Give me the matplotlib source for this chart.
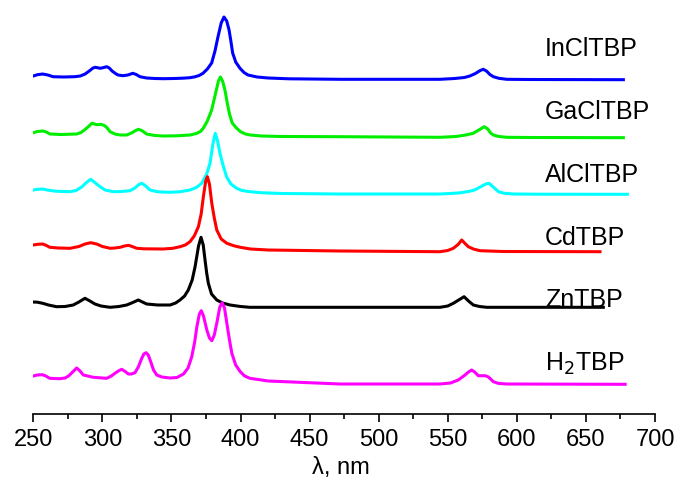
import matplotlib
matplotlib.use('Agg')
import matplotlib.pyplot as plt
from matplotlib.ticker import MultipleLocator

plt.rcParams['font.family'] = ['Liberation Sans', 'DejaVu Sans']

# Spectra (wavelength, nm / stacked absorbance, a.u.)
incl_x = [250, 253, 256.8, 260.5, 264.3, 272, 280, 284, 287.5, 290.5, 293, 294.7, 296.5, 298.3,
          300.5, 303.1, 305, 307, 309.5, 311.3, 314.9, 318.5, 322, 324.5, 327.2, 332, 338,
          343.9, 352, 358, 363.4, 367, 370, 372.8, 376, 379.1, 381.5, 383.7, 386, 388, 390,
          391.7, 393, 394.3, 396.5, 399.6, 402.5, 405.4, 412, 420, 435, 472, 544.4, 555, 562,
          566, 570, 573.5, 575.7, 578, 580.5, 583, 587, 592.7, 610, 677.1]
incl_y = [3.38, 3.393, 3.40, 3.39, 3.373, 3.37, 3.373, 3.38, 3.40, 3.43, 3.458, 3.467, 3.463, 3.457,
          3.463, 3.473, 3.46, 3.43, 3.405, 3.39, 3.383, 3.39, 3.407, 3.395, 3.373, 3.36, 3.355,
          3.353, 3.355, 3.358, 3.363, 3.372, 3.385, 3.407, 3.45, 3.51, 3.63, 3.773, 3.91, 3.97, 3.93,
          3.84, 3.73, 3.61, 3.52, 3.457, 3.415, 3.39, 3.37, 3.36, 3.352, 3.347, 3.347, 3.355, 3.365,
          3.38, 3.405, 3.435, 3.447, 3.43, 3.395, 3.373, 3.357, 3.347, 3.345, 3.343]

gacl_x = [250, 253, 256.8, 259.5, 262, 270, 281.4, 284.5, 287, 290, 292.4, 294.3, 296, 298.8,
          301.5, 303.5, 305.6, 309, 313, 317.6, 321, 323.5, 326, 328.5, 332, 338, 344, 354,
          363.4, 368, 371, 373, 376, 379.1, 382.5, 384, 385.4, 387, 388.7, 390.4, 392, 394, 397,
          400, 403.5, 407.2, 415, 430, 472, 544.4, 556, 563, 568.4, 572.5, 576.4, 579, 581, 583,
          587, 592.7, 610, 677.1]
gacl_y = [2.813, 2.825, 2.83, 2.82, 2.80, 2.795, 2.80, 2.815, 2.84, 2.875, 2.907, 2.90, 2.893, 2.897,
          2.885, 2.86, 2.823, 2.80, 2.79, 2.79, 2.81, 2.83, 2.847, 2.835, 2.80, 2.785, 2.78, 2.782,
          2.79, 2.805, 2.825, 2.857, 2.93, 3.04, 3.24, 3.33, 3.37, 3.33, 3.24, 3.11, 3.00, 2.91, 2.86,
          2.823, 2.80, 2.79, 2.78, 2.775, 2.773, 2.767, 2.775, 2.79, 2.807, 2.84, 2.873, 2.85, 2.81, 2.79,
          2.775, 2.767, 2.765, 2.763]

alcl_x = [250, 253, 256.8, 260, 266, 276.6, 281, 285, 288.5, 291.5, 294.5, 298.3, 302, 307.9,
          314, 320, 323.5, 326.5, 328.5, 331, 334.5, 340, 349, 356, 363.4, 368, 371.9, 375.5,
          377.9, 380, 381.7, 383.4, 385.1, 387.5, 389.9, 393, 397.2, 401, 406.8, 415, 430, 472,
          544.4, 558, 565, 569.4, 573.5, 577.5, 579.9, 582.5, 586.7, 591, 597.5, 615, 680]
alcl_y = [2.24, 2.247, 2.25, 2.24, 2.228, 2.223, 2.235, 2.27, 2.315, 2.347, 2.315, 2.273, 2.24, 2.223,
          2.225, 2.233, 2.26, 2.295, 2.307, 2.285, 2.24, 2.222, 2.217, 2.222, 2.24, 2.265, 2.307, 2.40,
          2.507, 2.70, 2.807, 2.73, 2.607, 2.48, 2.373, 2.30, 2.257, 2.235, 2.223, 2.213, 2.205, 2.20,
          2.20, 2.21, 2.225, 2.24, 2.27, 2.30, 2.307, 2.275, 2.223, 2.207, 2.20, 2.198, 2.197]

cd_x = [250, 253, 256.8, 259.5, 262, 268, 276.6, 283, 287.5, 291.5, 295.9, 300, 305.6, 309,
        312.8, 316, 319, 321.5, 324.9, 330, 344, 351, 356.2, 360, 363.4, 366.5, 369.5, 371.5,
        373.1, 374.8, 376, 377.5, 379.2, 381, 382.8, 386, 390.1, 395, 399.8, 407.2, 420, 472,
        544.4, 550, 554, 557.5, 560.1, 562.5, 564.9, 568.5, 573.3, 590, 660.2]
cd_y = [1.69, 1.697, 1.70, 1.685, 1.667, 1.66, 1.657, 1.675, 1.70, 1.713, 1.70, 1.675, 1.657, 1.66,
        1.667, 1.68, 1.687, 1.675, 1.657, 1.652, 1.65, 1.657, 1.673, 1.69, 1.723, 1.78, 1.873, 2.00,
        2.173, 2.33, 2.373, 2.30, 2.107, 1.96, 1.84, 1.75, 1.707, 1.683, 1.667, 1.65, 1.64, 1.63,
        1.623, 1.635, 1.657, 1.695, 1.74, 1.705, 1.673, 1.65, 1.633, 1.625, 1.623]

zn_x = [250, 253, 256.8, 261, 266.8, 273, 278.9, 283, 287.4, 291, 294.6, 299, 305.6, 312,
        317.6, 322, 326, 329, 332, 340, 349, 353, 356.2, 359.5, 362.2, 365, 367.1, 369.6, 371.4,
        373, 374.3, 375.5, 376.7, 379, 382.8, 387, 392.4, 400, 406.8, 430, 544.4, 550, 554,
        558.5, 561.8, 565, 568.5, 573, 578.2, 662.6]
zn_y = [1.12, 1.118, 1.107, 1.09, 1.073, 1.075, 1.09, 1.12, 1.157, 1.13, 1.10, 1.08, 1.067, 1.075,
        1.09, 1.115, 1.14, 1.12, 1.10, 1.09, 1.09, 1.11, 1.14, 1.18, 1.24, 1.34, 1.473, 1.68, 1.767,
        1.69, 1.54, 1.41, 1.307, 1.20, 1.14, 1.11, 1.09, 1.075, 1.067, 1.067, 1.067, 1.08, 1.107,
        1.145, 1.173, 1.13, 1.09, 1.075, 1.067, 1.067]

h2_x = [250, 253, 256.6, 259, 261.9, 269.1, 273, 275.5, 278.5, 281.4, 283.5, 286.2, 293.4, 303.1,
        306.5, 309.1, 311.5, 314, 316.5, 318.8, 321, 323.6, 326, 328.5, 330, 331.6, 333.2, 335,
        337, 339.4, 343, 349, 354, 358.7, 362, 364.7, 366.8, 368.4, 370.2, 371.6, 373.2, 375.6,
        377.5, 379.2, 381, 382.8, 385, 386.7, 388.4, 390.1, 392, 393.7, 396.5, 399.8, 403, 406.8,
        420, 472, 544.4, 552, 557.6, 562.5, 565, 567.3, 569.5, 572.1, 577, 579.5, 583, 587,
        592.7, 678.4]
h2_y = [0.38, 0.39, 0.393, 0.38, 0.357, 0.353, 0.36, 0.38, 0.42, 0.46, 0.435, 0.39, 0.367, 0.357,
        0.38, 0.407, 0.43, 0.447, 0.425, 0.40, 0.40, 0.413, 0.47, 0.557, 0.6, 0.613, 0.59, 0.523,
        0.44, 0.39, 0.37, 0.36, 0.365, 0.40, 0.46, 0.573, 0.72, 0.873, 1.00, 1.033, 0.98, 0.84,
        0.76, 0.733, 0.79, 0.907, 1.07, 1.113, 1.06, 0.907, 0.74, 0.607, 0.49, 0.423, 0.38, 0.357,
        0.33, 0.30, 0.30, 0.31, 0.34, 0.39, 0.42, 0.44, 0.42, 0.383, 0.383, 0.37, 0.323, 0.305,
        0.30, 0.297]

names = ['InClTBP', 'GaClTBP', 'AlClTBP', 'CdTBP', 'ZnTBP', 'H$_2$TBP']
label_y = [3.58, 2.947, 2.323, 1.69, 1.067, 0.43]
colors = ['#0000ff', '#00ee00', '#00ffff', '#ff0000', '#000000', '#ff00ff']
series = [(incl_x, incl_y), (gacl_x, gacl_y), (alcl_x, alcl_y),
          (cd_x, cd_y), (zn_x, zn_y), (h2_x, h2_y)]

fig = plt.figure(figsize=(6.79, 4.79), dpi=100)
ax = fig.add_axes([33.3 / 679, 65 / 479, (655 - 33.3) / 679, 414 / 479])

for (xs, ys), c in zip(series, colors):
    ax.plot(xs, ys, color=c, linewidth=2.2, solid_joinstyle='round')

for name, ly in zip(names, label_y):
    ax.text(620.4, ly, name, fontsize=18, va='baseline', ha='left')

ax.set_xlim(250, 700)
ax.set_ylim(0, 4.14)
ax.xaxis.set_major_locator(MultipleLocator(50))
ax.xaxis.set_minor_locator(MultipleLocator(25))
ax.tick_params(axis='x', which='major', direction='out', length=6, width=1.2,
               labelsize=17, pad=5)
ax.tick_params(axis='x', which='minor', direction='out', length=3.5, width=1.2)
ax.set_yticks([])
for side in ['left', 'right', 'top']:
    ax.spines[side].set_visible(False)
ax.spines['bottom'].set_linewidth(1.2)
ax.patch.set_alpha(0)

fig.text(341 / 679, 1 - 474 / 479, 'λ, nm', fontsize=17, ha='center', va='baseline')

plt.savefig('out.png', dpi=100)
